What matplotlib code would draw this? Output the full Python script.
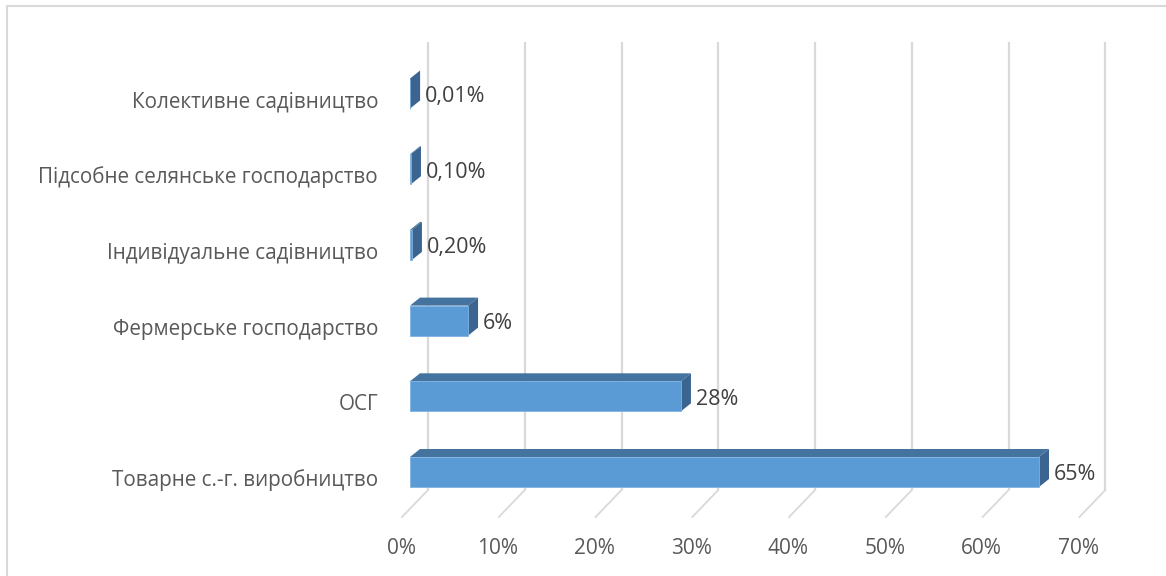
import matplotlib
matplotlib.use('Agg')
import matplotlib.pyplot as plt
from matplotlib.patches import Polygon, Rectangle

categories = ['Товарне с.-г. виробництво', 'ОСГ', 'Фермерське господарство',
              'Індивідуальне садівництво', 'Підсобне селянське господарство',
              'Колективне садівництво']
values = [65, 28, 6, 0.2, 0.1, 0.01]
value_labels = ['65%', '28%', '6%', '0,20%', '0,10%', '0,01%']
ticks = [0, 10, 20, 30, 40, 50, 60, 70]
tick_labels = ['0%', '10%', '20%', '30%', '40%', '50%', '60%', '70%']

plt.rcParams['font.family'] = ['Open Sans', 'DejaVu Sans']

W, H = 1166, 576
fig = plt.figure(figsize=(W / 100, H / 100), dpi=100)

# axes: 0..70% -> px 410..1087, rows -0.5..5.5 around row 0 at px 472
px_per_pct = 9.677
px_per_row = 75.7
row0_px = 472
x0_px, x1_px = 410, 410 + 70 * px_per_pct
y_bot_px = row0_px + 0.5 * px_per_row
y_top_px = row0_px - 5.5 * px_per_row
ax = fig.add_axes([x0_px / W, (H - y_bot_px) / H, (x1_px - x0_px) / W,
                   (y_bot_px - y_top_px) / H])
ax.set_xlim(0, 70)
ax.set_ylim(-0.5, 5.5)
ax.axis('off')

def dx(p):
    return p / px_per_pct

def dy(p):
    return p / px_per_row

def ypx(p):
    # pixel row (from top) -> data y
    return (row0_px - p) / px_per_row

grid_c = '#D9D9D9'
# back wall gridlines + floor diagonals
for t in ticks:
    xb = t + dx(18)
    ax.plot([xb, xb], [ypx(490), ypx(42)], color=grid_c, lw=1.6,
            clip_on=False, zorder=1, solid_capstyle='butt')
    ax.plot([xb, t + dx(-8)], [ypx(490), ypx(517)], color=grid_c, lw=1.3,
            clip_on=False, zorder=1)

front_c = '#5B9BD5'
top_c = '#44739F'
side_c = '#3B6590'
bh = dy(30)
ox, oy = dx(10), dy(8)
for i, v in enumerate(values):
    yb = i - bh / 2
    yt = i + bh / 2
    top = Polygon([(0, yt), (v, yt), (v + ox, yt + oy), (ox, yt + oy)],
                  closed=True, fc=top_c, ec='none', zorder=3)
    side = Polygon([(v, yb), (v + ox, yb + oy), (v + ox, yt + oy), (v, yt)],
                   closed=True, fc=side_c, ec='none', zorder=3)
    front = Rectangle((0, yb), v, bh, fc=front_c, ec='#7FB2E0', lw=0.6, zorder=4)
    ax.add_patch(top)
    ax.add_patch(side)
    ax.add_patch(front)
    ax.text(v + dx(15), i - dy(8.5), value_labels[i], ha='left', va='baseline',
            fontsize=15.5, color='#404040', zorder=5)

# category labels
for i, c in enumerate(categories):
    ax.text(dx(-32), i - dy(14), c, ha='right', va='baseline', fontsize=14.9,
            color='#595959', clip_on=False)

# value axis labels
for t, lab in zip(ticks, tick_labels):
    ax.text(t + dx(-9), ypx(554), lab, ha='center', va='baseline',
            fontsize=15, color='#595959', clip_on=False)

# chart border
fig.patches.append(Rectangle((7 / W, -0.01), 1.05, (H - 6) / H + 0.01,
                             transform=fig.transFigure, fill=False,
                             ec='#D9D9D9', lw=1.5))

fig.savefig('out.png', dpi=100)
